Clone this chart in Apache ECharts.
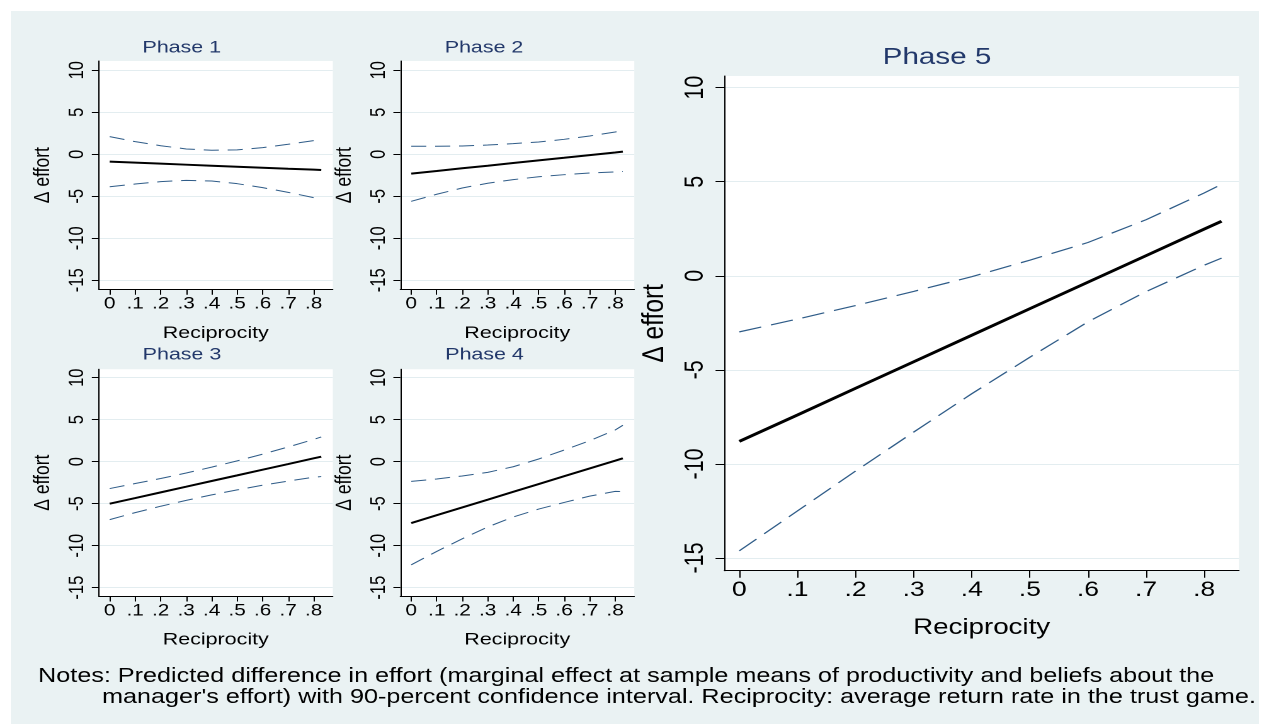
<!DOCTYPE html>
<html>
<head>
<meta charset="utf-8">
<script src="https://cdn.jsdelivr.net/npm/echarts@6.0.0/dist/echarts.min.js"></script>
<style>
html,body{margin:0;padding:0;background:#ffffff;width:1262px;height:724px;overflow:hidden;}
#bg{position:absolute;left:11px;top:11px;width:1248px;height:713px;background:#eaf2f3;}
#chart{position:absolute;left:0;top:0;width:1002px;height:724px;transform:scaleX(1.2595);transform-origin:0 0;}
</style>
</head>
<body>
<div id="bg"></div>
<div id="chart"></div>
<script>
// ---- data ----
const reciprocity = [0, 0.1, 0.2, 0.3, 0.4, 0.5, 0.6, 0.7, 0.8, 0.83];
const xTickValues = [0, 0.1, 0.2, 0.3, 0.4, 0.5, 0.6, 0.7, 0.8];
const yTickValues = [-15, -10, -5, 0, 5, 10];
const phaseTitles = ['Phase 1', 'Phase 2', 'Phase 3', 'Phase 4', 'Phase 5'];
const xAxisTitle = 'Reciprocity';
const yAxisTitle = '\u0394 effort';
const notesLine1 = 'Notes: Predicted difference in effort (marginal effect at sample means of productivity and beliefs about the';
const notesLine2 = "manager's effort) with 90-percent confidence interval. Reciprocity: average return rate in the trust game.";

const phase1Effect = [-0.88, -1.00, -1.12, -1.24, -1.36, -1.48, -1.60, -1.72, -1.83, -1.87];
const phase1Upper  = [2.10, 1.50, 1.02, 0.63, 0.48, 0.52, 0.79, 1.19, 1.62, 1.75];
const phase1Lower  = [-3.86, -3.54, -3.26, -3.10, -3.18, -3.50, -3.97, -4.53, -5.16, -5.35];

const phase2Effect = [-2.30, -1.99, -1.67, -1.36, -1.04, -0.73, -0.42, -0.10, 0.21, 0.31];
const phase2Upper  = [0.95, 0.95, 0.99, 1.10, 1.27, 1.46, 1.78, 2.18, 2.65, 2.80];
const phase2Lower  = [-5.60, -4.76, -4.01, -3.45, -3.02, -2.67, -2.43, -2.23, -2.10, -2.05];

const phase3Effect = [-5.00, -4.33, -3.65, -2.98, -2.30, -1.63, -0.95, -0.28, 0.40, 0.60];
const phase3Upper  = [-3.20, -2.60, -2.00, -1.35, -0.65, 0.10, 0.90, 1.75, 2.65, 2.95];
const phase3Lower  = [-6.90, -6.06, -5.30, -4.61, -3.95, -3.36, -2.80, -2.31, -1.85, -1.77];

const phase4Effect = [-7.30, -6.37, -5.44, -4.52, -3.59, -2.66, -1.73, -0.80, 0.12, 0.40];
const phase4Upper  = [-2.34, -2.06, -1.70, -1.27, -0.60, 0.32, 1.39, 2.50, 3.77, 4.33];
const phase4Lower  = [-12.28, -10.68, -9.18, -7.77, -6.58, -5.64, -4.85, -4.10, -3.53, -3.55];

const phase5Effect = [-8.80, -7.40, -5.98, -4.57, -3.16, -1.75, -0.34, 1.07, 2.48, 2.90];
const phase5Upper  = [-2.98, -2.30, -1.58, -0.83, -0.05, 0.83, 1.77, 2.98, 4.40, 4.86];
const phase5Lower  = [-14.62, -12.50, -10.38, -8.31, -6.27, -4.33, -2.45, -0.84, 0.56, 0.94];

const effects = [phase1Effect, phase2Effect, phase3Effect, phase4Effect, phase5Effect];
const uppers  = [phase1Upper, phase2Upper, phase3Upper, phase4Upper, phase5Upper];
const lowers  = [phase1Lower, phase2Lower, phase3Lower, phase4Lower, phase5Lower];

// ---- layout / style ----
const FONT = '"Liberation Sans", Arial, Helvetica, sans-serif';
const TITLE_COLOR = '#22386a';
const CI_COLOR = '#2f5c88';
const GRID_COLOR = '#e3edf0';

const panels = [
  {left: 78.4,  top: 61,    width: 185.8, height: 228.3, xmin: -0.043, xmax: 0.875, ymin: -16.07, ymax: 11.1, big: false},
  {left: 317.8, top: 61,    width: 185.8, height: 228.3, xmin: -0.043, xmax: 0.875, ymin: -16.07, ymax: 11.1, big: false},
  {left: 78.4,  top: 369.3, width: 185.8, height: 226.7, xmin: -0.043, xmax: 0.875, ymin: -15.99, ymax: 11.0, big: false},
  {left: 317.8, top: 369.3, width: 185.8, height: 226.7, xmin: -0.043, xmax: 0.875, ymin: -15.99, ymax: 11.0, big: false},
  {left: 575.1, top: 76,    width: 408.6, height: 494.7, xmin: -0.0258, xmax: 0.860, ymin: -15.675, ymax: 10.62, big: true}
];
const titlePos = [[144.3, 48], [384.3, 48], [144.5, 355], [384.7, 355], [743.9, 57.7]];

function fmtX(v) {
  if (v === 0) return '0';
  return String(Math.round(v * 10) / 10).replace(/^0/, '');
}

const grid = [], xAxis = [], yAxis = [], series = [], graphic = [];

panels.forEach((p, i) => {
  const big = p.big;
  grid.push({
    left: p.left, top: p.top, width: p.width, height: p.height,
    show: true, backgroundColor: '#ffffff', borderWidth: 0,
    outerBoundsMode: 'none', containLabel: false
  });
  xAxis.push({
    type: 'value', gridIndex: i, min: p.xmin, max: p.xmax,
    axisLine: {show: true, onZero: false, lineStyle: {color: '#000', width: 1}},
    axisTick: {show: true, customValues: xTickValues, length: big ? 7 : 5.5, lineStyle: {color: '#000', width: 1}},
    axisLabel: {show: true, customValues: xTickValues, formatter: fmtX, color: '#000',
                fontSize: big ? 21 : 16.5, fontFamily: FONT, margin: big ? 9 : 6.3},
    splitLine: {show: false},
    name: xAxisTitle, nameLocation: 'middle', nameGap: big ? 46 : 35.3,
    nameTextStyle: {color: '#000', fontSize: big ? 22 : 17, fontFamily: FONT}
  });
  yAxis.push({
    type: 'value', gridIndex: i, min: p.ymin, max: p.ymax,
    axisLine: {show: true, onZero: false, lineStyle: {color: '#000', width: 1}},
    axisTick: {show: true, customValues: yTickValues, length: big ? 7 : 5.5, lineStyle: {color: '#000', width: 1}},
    axisLabel: {show: true, customValues: yTickValues, rotate: 90, color: '#000',
                fontSize: big ? 21.5 : 16.5, fontFamily: FONT, margin: big ? 11.8 : 8.3},
    splitLine: {show: true, lineStyle: {color: GRID_COLOR, width: 1}},
    name: yAxisTitle, nameLocation: 'middle', nameGap: big ? 42.8 : 35.3,
    nameTextStyle: {color: '#000', fontSize: big ? 24.5 : 17.5, fontFamily: FONT}
  });
  const pair = arr => reciprocity.map((x, k) => [x, arr[k]]);
  const dash = big ? [18, 8] : [12, 7];
  series.push({
    type: 'line', xAxisIndex: i, yAxisIndex: i, data: pair(uppers[i]),
    showSymbol: false, symbol: 'none', silent: true, z: 2,
    lineStyle: {color: CI_COLOR, width: big ? 1.2 : 1, type: dash}
  });
  series.push({
    type: 'line', xAxisIndex: i, yAxisIndex: i, data: pair(lowers[i]),
    showSymbol: false, symbol: 'none', silent: true, z: 2,
    lineStyle: {color: CI_COLOR, width: big ? 1.2 : 1, type: dash}
  });
  series.push({
    type: 'line', xAxisIndex: i, yAxisIndex: i, data: pair(effects[i]),
    showSymbol: false, symbol: 'none', silent: true, z: 3,
    lineStyle: {color: '#000', width: big ? 2.8 : 2, type: 'solid'}
  });
  graphic.push({
    type: 'text', x: titlePos[i][0], y: titlePos[i][1], silent: true,
    style: {text: phaseTitles[i], fill: TITLE_COLOR, font: (big ? '23.5px ' : '17px ') + FONT,
            textAlign: 'center', textVerticalAlign: 'middle'}
  });
});

graphic.push({
  type: 'text', x: 30.2, y: 676.3, silent: true,
  style: {text: notesLine1, fill: '#000', font: '20px ' + FONT, textAlign: 'left', textVerticalAlign: 'middle'}
});
graphic.push({
  type: 'text', x: 81, y: 697.3, silent: true,
  style: {text: notesLine2, fill: '#000', font: '20px ' + FONT, textAlign: 'left', textVerticalAlign: 'middle'}
});

const chart = echarts.init(document.getElementById('chart'), null, {renderer: 'canvas', devicePixelRatio: 2});
chart.setOption({
  backgroundColor: 'transparent',
  animation: false,
  textStyle: {fontFamily: FONT},
  grid, xAxis, yAxis, series, graphic
});
</script>
</body>
</html>
